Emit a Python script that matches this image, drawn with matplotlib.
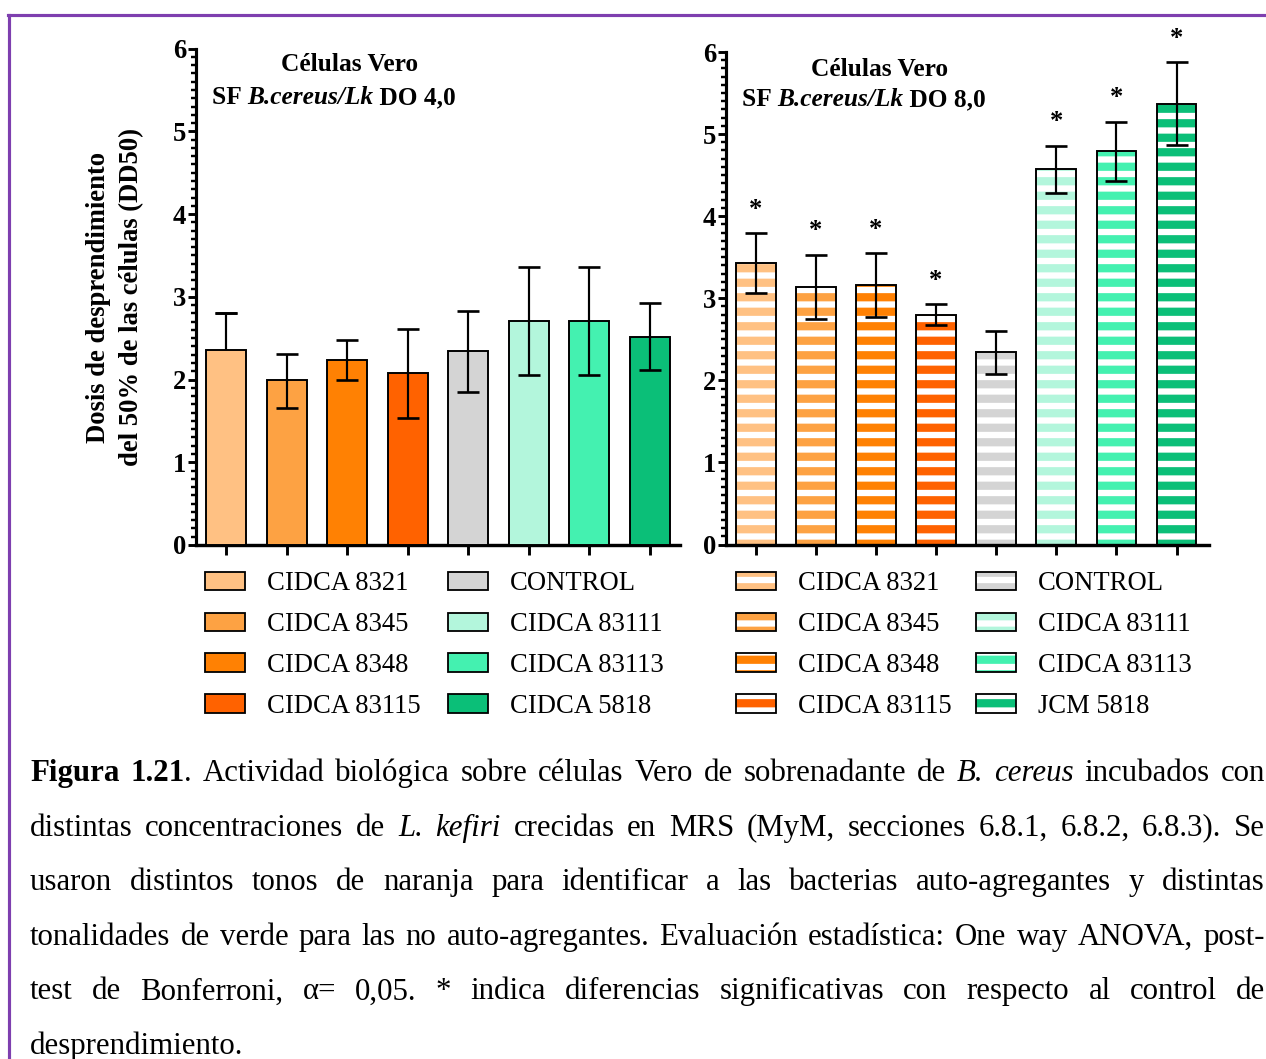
import matplotlib
matplotlib.use("Agg")
import matplotlib.pyplot as plt
import matplotlib.patches as mpatches
from matplotlib.lines import Line2D
from matplotlib.ticker import MultipleLocator

W, H, DPI = 1266, 1059, 87

strains_do4 = ["CIDCA 8321", "CIDCA 8345", "CIDCA 8348", "CIDCA 83115",
               "CONTROL", "CIDCA 83111", "CIDCA 83113", "CIDCA 5818"]
strains_do8 = ["CIDCA 8321", "CIDCA 8345", "CIDCA 8348", "CIDCA 83115",
               "CONTROL", "CIDCA 83111", "CIDCA 83113", "JCM 5818"]
bar_colors = ["#FFC183", "#FDA243", "#FF8103", "#FF6200",
              "#D4D4D4", "#B3F6DC", "#44F1B0", "#0BBF78"]

# DD50, DO 4,0 (first bar only shows the upper error)
dd50_do4 = [2.36, 1.99, 2.24, 2.08, 2.34, 2.71, 2.71, 2.52]
sd_up_do4 = [0.44, 0.32, 0.24, 0.53, 0.49, 0.65, 0.65, 0.40]
sd_dn_do4 = [0.00, 0.33, 0.24, 0.54, 0.49, 0.65, 0.65, 0.40]

# DD50, DO 8,0
dd50_do8 = [3.43, 3.14, 3.16, 2.80, 2.34, 4.57, 4.79, 5.37]
sd_do8 = [0.36, 0.39, 0.39, 0.125, 0.265, 0.29, 0.36, 0.505]
signif_do8 = [True, True, True, True, False, True, True, True]

caption_lines = [
    [("Figura 1.21", "b"), (". Actividad biológica sobre células Vero de sobrenadante de ", "n"),
     ("B. cereus", "i"), (" incubados con", "n")],
    [("distintas concentraciones de ", "n"), ("L. kefiri", "i"),
     (" crecidas en MRS (MyM, secciones 6.8.1, 6.8.2, 6.8.3). Se", "n")],
    [("usaron distintos tonos de naranja para identificar a las bacterias auto-agregantes y distintas", "n")],
    [("tonalidades de verde para las no auto-agregantes. Evaluación estadística: One way ANOVA, post-", "n")],
    [("test de Bonferroni, α= 0,05. * indica diferencias significativas con respecto al control de", "n")],
    [("desprendimiento.", "n")],
]

plt.rcParams["font.family"] = ["Liberation Serif", "DejaVu Serif"]
plt.rcParams["hatch.linewidth"] = 6.8

FS = 22


def px(x):
    return x / W


def py(y):
    return 1 - y / H


fig = plt.figure(figsize=(W / DPI, H / DPI), dpi=DPI)
fig.patch.set_facecolor("white")

ax1 = fig.add_axes([px(196), py(545), px(680) - px(196), py(48.6) - py(545)])
ax2 = fig.add_axes([px(725.6), py(544.5), px(1209) - px(725.6), py(52) - py(544.5)])

xpos = list(range(len(strains_do4)))
bw = 0.66
ekw = dict(fmt="none", ecolor="black", elinewidth=1.8, capsize=9, capthick=2.2, zorder=4)

# left panel: solid bars
ax1.bar(xpos, dd50_do4, bw, color=bar_colors, edgecolor="black", linewidth=1.6, zorder=3)
for i in xpos:
    if sd_dn_do4[i] > 0:
        ax1.errorbar([i], [dd50_do4[i]], yerr=[[sd_dn_do4[i]], [sd_up_do4[i]]], **ekw)
    else:
        # upper whisker only
        top = dd50_do4[i] + sd_up_do4[i]
        ax1.vlines([i], [dd50_do4[i]], [top], color="black", lw=1.8, zorder=4)
        ax1.errorbar([i], [top], yerr=[[0], [0]], **ekw)

# right panel: striped bars
ax2.bar(xpos, dd50_do8, bw, color="white", edgecolor=bar_colors, hatch="-", linewidth=0, zorder=2)
ax2.bar(xpos, dd50_do8, bw, fill=False, edgecolor="black", linewidth=1.6, zorder=3)
ax2.errorbar(xpos, dd50_do8, yerr=sd_do8, **ekw)
for x, v, e, s in zip(xpos, dd50_do8, sd_do8, signif_do8):
    if s:
        ax2.text(x, v + e + 0.2, "*", ha="center", va="baseline", fontsize=FS,
                 fontweight="bold", clip_on=False)

for ax, xmax in ((ax1, 7.5), (ax2, 7.54)):
    ax.set_xlim(-0.5, xmax)
    ax.set_ylim(0, 6)
    ax.spines["top"].set_visible(False)
    ax.spines["right"].set_visible(False)
    ax.spines["left"].set_linewidth(2.6)
    ax.spines["bottom"].set_linewidth(2.8)
    ax.set_xticks(xpos)
    ax.set_xticklabels([])
    ax.tick_params(axis="x", direction="out", length=8, width=2.4)
    ax.yaxis.set_major_locator(MultipleLocator(1))
    ax.yaxis.set_minor_locator(MultipleLocator(0.1))
    ax.tick_params(axis="y", which="major", direction="out", length=6.5, width=2.4, pad=1.5)
    ax.tick_params(axis="y", which="minor", direction="out", length=4, width=2.0)
    for lab in ax.get_yticklabels():
        lab.set_fontsize(FS)
        lab.set_fontweight("bold")
    ax.set_facecolor("none")


def title_block(ax, do_txt, yb1, yb2, x2):
    ax.text(0.318, yb1, "Células Vero", transform=ax.transAxes, ha="center",
            va="baseline", fontsize=FS - 1, fontweight="bold")
    prev = ax.text(x2, yb2, "SF ", transform=ax.transAxes, ha="left",
                   va="baseline", fontsize=FS - 1, fontweight="bold")
    for txt, st in (("B.cereus/Lk", "italic"), (" DO " + do_txt, "normal")):
        prev = ax.annotate(txt, xy=(1, 0), xycoords=prev, ha="left", va="bottom",
                           fontsize=FS - 1, fontweight="bold", fontstyle=st)


title_block(ax1, "4,0", 0.955, 0.888, 0.033)
title_block(ax2, "8,0", 0.951, 0.890, 0.034)

fig.text(px(115), py(297), "Dosis de desprendimiento\ndel 50% de las células (DD50)",
         rotation=90, ha="center", va="center", multialignment="center",
         fontsize=FS, fontweight="bold", linespacing=1.45)

# legends
fs_px = FS * DPI / 72.0
leg_kw = dict(loc="upper left", frameon=False, fontsize=FS, borderpad=0, borderaxespad=0,
              handlelength=40 / fs_px, handleheight=18 / fs_px,
              handletextpad=22 / fs_px, labelspacing=0.6)


def solid_handle(c):
    return mpatches.Patch(facecolor=c, edgecolor="black", linewidth=1.5)


def striped_handle(c):
    return (mpatches.Patch(facecolor="white", edgecolor=c, hatch="-", linewidth=0),
            mpatches.Patch(facecolor="none", edgecolor="black", linewidth=1.5))


for names, mk, xs in ((strains_do4, solid_handle, (205, 448)),
                      (strains_do8, striped_handle, (736, 976))):
    for k, x0 in enumerate(xs):
        hs = [mk(c) for c in bar_colors[4 * k:4 * k + 4]]
        fig.legend(hs, names[4 * k:4 * k + 4], bbox_to_anchor=(px(x0), py(571)), **leg_kw)

# caption, justified
renderer = fig.canvas.get_renderer()
cap_fs = 25.5
style_kw = {"n": {}, "b": {"fontweight": "bold"}, "i": {"fontstyle": "italic"}}
x_left, x_right = 30, 1265
base0, step = 781, 54.6


def split_words(segs):
    words = []
    new_word = True
    for txt, st in segs:
        parts = txt.split(" ")
        for i, p in enumerate(parts):
            if i > 0:
                new_word = True
            if p == "":
                continue
            if new_word or not words:
                words.append([(p, st)])
                new_word = False
            else:
                words[-1].append((p, st))
    return words


for li, segs in enumerate(caption_lines):
    yb = py(base0 + li * step)
    words = split_words(segs)
    objs = []
    widths = []
    for wd in words:
        pieces = []
        wsum = 0
        for p, st in wd:
            t = fig.text(0, yb, p, ha="left", va="baseline", fontsize=cap_fs, **style_kw[st])
            wpx = t.get_window_extent(renderer).width
            pieces.append((t, wpx))
            wsum += wpx
        objs.append(pieces)
        widths.append(wsum)
    last = li == len(caption_lines) - 1
    if last or len(words) < 2:
        gap = 8
    else:
        gap = (x_right - x_left - sum(widths)) / (len(words) - 1)
    x = x_left
    for pieces, wsum in zip(objs, widths):
        xx = x
        for t, wpx in pieces:
            t.set_x(px(xx))
            xx += wpx
        x += wsum + gap

# purple page frame
frame_c = "#7E3FAF"
fig.add_artist(Line2D([px(8), px(1266)], [py(15), py(15)], color=frame_c, lw=2.6))
fig.add_artist(Line2D([px(9.2), px(9.2)], [py(15), py(1059)], color=frame_c, lw=2.6))

fig.savefig("out.png", dpi=DPI)
